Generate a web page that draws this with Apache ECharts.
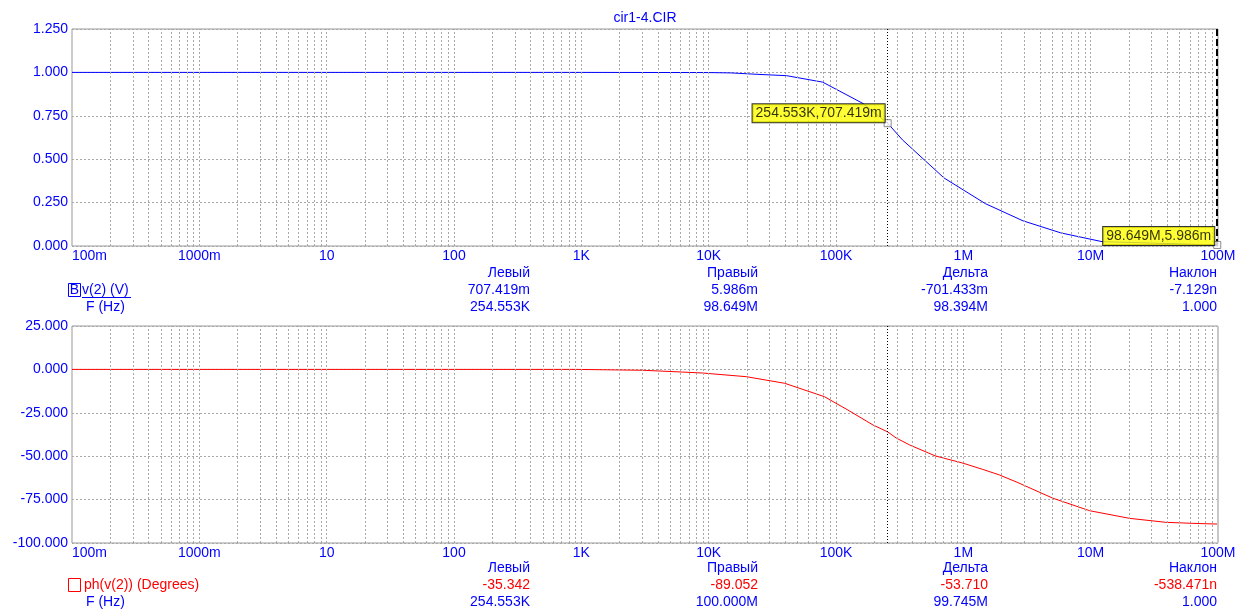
<!DOCTYPE html>
<html><head><meta charset="utf-8">
<script src="https://cdn.jsdelivr.net/npm/echarts@6/dist/echarts.min.js"></script>
<style>html,body{margin:0;padding:0;background:#fff}#c{width:1237px;height:610px}</style>
</head><body><div id="c"></div>
<script>
// ---------------- data ----------------
const xTickLabels = ['100m','1000m','10','100','1K','10K','100K','1M','10M','100M'];
const magFreq   = [0.1, 1000, 10000, 15000, 24000, 41000, 78500, 162000, 254553, 333000, 705000, 1490000, 2940000, 5830000, 12300000, 98649000];
const magValues = [1.0, 1.0, 0.999, 0.997, 0.989, 0.981, 0.944, 0.822, 0.7074, 0.611, 0.392, 0.244, 0.145, 0.0755, 0.025, 0.005986];
const phaseFreq   = [0.1, 915, 3050, 6100, 9000, 19800, 39500, 81000, 124000, 195000, 254553, 297000, 378000, 600000, 993000, 1420000, 1920000, 2680000, 5050000, 9800000, 20200000, 39000000, 71000000, 100000000];
const phaseValues = [0, 0, -0.5, -1.5, -2.1, -4.2, -8.0, -15.7, -23.4, -32.0, -36.0, -39.5, -43.5, -49.8, -54.0, -57.6, -60.8, -65.2, -74.2, -81.4, -85.8, -88.1, -88.8, -89.1];
const cursorLeftFreq = 254553;
const cursorRightFreqMag = 98649000;
const cursorRightFreqPhase = 100000000;
const cursorMagValues = [0.707419, 0.005986];
const cursorLabels = ['254.553K,707.419m', '98.649M,5.986m'];
const tableHeaders = ['Левый', 'Правый', 'Дельта', 'Наклон'];
const magRow       = ['707.419m', '5.986m', '-701.433m', '-7.129n'];
const magFreqRow   = ['254.553K', '98.649M', '98.394M', '1.000'];
const phaseRow     = ['-35.342', '-89.052', '-53.710', '-538.471n'];
const phaseFreqRow = ['254.553K', '100.000M', '99.745M', '1.000'];
const magTrace = 'v(2) (V)';
const phaseTrace = 'ph(v(2)) (Degrees)';
const freqName = 'F (Hz)';
const titleText = 'cir1-4.CIR';

// ---------------- styling ----------------
const FONT = '"Liberation Sans", Arial, sans-serif';
const BLUE = '#0000ff';
const RED = '#ff0000';
const GRIDC = '#a8a8a8';

const gridX = [];
for (let k = -1; k <= 7; k++) {
  for (let m = 1; m <= 9; m++) {
    const v = m * Math.pow(10, k);
    if (k === -1 && m === 1) continue;
    gridX.push(+v.toPrecision(6));
  }
}

function xAxisCfg(idx) {
  return {
    type: 'log', logBase: 10, min: 0.1, max: 1e8, gridIndex: idx,
    axisLine: { show: false }, axisTick: { show: false }, splitLine: { show: false },
    axisLabel: {
      color: BLUE, fontFamily: FONT, fontSize: 14, margin: 3,
      showMinLabel: true, showMaxLabel: true, alignMinLabel: 'left', hideOverlap: false,
      formatter: v => xTickLabels[Math.round(Math.log10(v)) + 1]
    }
  };
}
function yAxisCfg(idx, min, max, interval) {
  return {
    type: 'value', gridIndex: idx, min: min, max: max, interval: interval,
    axisLine: { show: false }, axisTick: { show: false },
    splitLine: { show: true, lineStyle: { color: GRIDC, type: [2, 2], width: 1 } },
    axisLabel: { color: BLUE, fontFamily: FONT, fontSize: 14, margin: 4, formatter: v => v.toFixed(3) }
  };
}
function gridLineSeries(idx) {
  return {
    type: 'line', xAxisIndex: idx, yAxisIndex: idx, data: [], silent: true, z: 1,
    markLine: {
      silent: true, symbol: ['none', 'none'], animation: false, label: { show: false },
      lineStyle: { color: GRIDC, type: [2, 2], width: 1 },
      data: gridX.map(v => ({ xAxis: v }))
    }
  };
}
function cursorSeries(idx, rightFreq, rightStyle) {
  return {
    type: 'line', xAxisIndex: idx, yAxisIndex: idx, data: [], silent: true, z: 4,
    markLine: {
      silent: true, symbol: ['none', 'none'], animation: false, label: { show: false },
      data: [
        { xAxis: cursorLeftFreq, lineStyle: { color: '#000', type: [1, 2], width: 1 } },
        { xAxis: rightFreq, lineStyle: rightStyle }
      ]
    }
  };
}

const magData = magFreq.map((f, i) => [f, magValues[i]]);
const phaseData = phaseFreq.map((f, i) => [f, phaseValues[i]]);

const colX = [530, 758, 988, 1217];
const graphics = [];
function txt(x, y, text, color, align) {
  graphics.push({ type: 'text', silent: true, style: { x: x, y: y, text: text, fill: color, font: '14px ' + FONT, align: align, verticalAlign: 'middle', textAlign: align, textVerticalAlign: 'middle' } });
}
txt(645, 18, titleText, BLUE, 'center');
tableHeaders.forEach((h, i) => { txt(colX[i], 273, h, BLUE, 'right'); txt(colX[i], 568, h, BLUE, 'right'); });
magRow.forEach((t, i) => txt(colX[i], 290, t, BLUE, 'right'));
magFreqRow.forEach((t, i) => txt(colX[i], 307, t, BLUE, 'right'));
phaseRow.forEach((t, i) => txt(colX[i], 585, t, RED, 'right'));
phaseFreqRow.forEach((t, i) => txt(colX[i], 602, t, BLUE, 'right'));
// legend boxes
graphics.push({ type: 'rect', silent: true, shape: { x: 68.5, y: 283.5, width: 12, height: 13 }, style: { fill: 'none', stroke: BLUE, lineWidth: 1 } });
txt(74.5, 290, 'B', BLUE, 'center');
txt(82, 290, magTrace, BLUE, 'left');
graphics.push({ type: 'line', silent: true, shape: { x1: 82, y1: 297.5, x2: 131, y2: 297.5 }, style: { stroke: BLUE, lineWidth: 1 } });
txt(86, 307, freqName, BLUE, 'left');
graphics.push({ type: 'rect', silent: true, shape: { x: 68.5, y: 578.5, width: 12, height: 13 }, style: { fill: 'none', stroke: RED, lineWidth: 1 } });
txt(84, 585, phaseTrace, RED, 'left');
txt(86, 602, freqName, BLUE, 'left');

const labelStyle = {
  show: true, position: 'left', distance: 0, color: '#000', fontFamily: FONT, fontSize: 14,
  backgroundColor: '#ffff00', borderColor: '#000', borderWidth: 1, padding: [2, 3, 2, 3]
};

const option = {
  animation: false,
  backgroundColor: '#fff',
  grid: [
    { left: 72, top: 29, width: 1146, height: 217, show: true, borderColor: '#999', borderWidth: 1, backgroundColor: '#fff', containLabel: false, outerBoundsMode: 'none' },
    { left: 72, top: 326, width: 1146, height: 217, show: true, borderColor: '#999', borderWidth: 1, backgroundColor: '#fff', containLabel: false, outerBoundsMode: 'none' }
  ],
  xAxis: [xAxisCfg(0), xAxisCfg(1)],
  yAxis: [yAxisCfg(0, 0, 1.25, 0.25), yAxisCfg(1, -100, 25, 25)],
  graphic: graphics,
  series: [
    gridLineSeries(0),
    gridLineSeries(1),
    { type: 'line', xAxisIndex: 0, yAxisIndex: 0, data: magData, showSymbol: false, symbol: 'none', z: 3,
      lineStyle: { color: BLUE, width: 1 }, silent: true },
    { type: 'line', xAxisIndex: 1, yAxisIndex: 1, data: phaseData, showSymbol: false, symbol: 'none', z: 3,
      lineStyle: { color: RED, width: 1 }, silent: true },
    cursorSeries(0, cursorRightFreqMag, { color: '#000', type: [7, 3], width: 2 }),
    cursorSeries(1, cursorRightFreqPhase, { color: '#c8c8c8', type: 'solid', width: 2 }),
    { type: 'scatter', xAxisIndex: 0, yAxisIndex: 0, z: 6, silent: true, clip: false,
      symbol: 'rect', symbolSize: 7, itemStyle: { color: '#fff', borderColor: '#707070', borderWidth: 1 },
      data: [
        { value: [cursorLeftFreq, cursorMagValues[0]], label: Object.assign({}, labelStyle, { formatter: cursorLabels[0], offset: [1, -10] }) },
        { value: [cursorRightFreqMag, cursorMagValues[1]], label: Object.assign({}, labelStyle, { formatter: cursorLabels[1], offset: [1, -9] }) }
      ]
    }
  ]
};
const chart = echarts.init(document.getElementById('c'), null, { renderer: 'canvas' });
chart.setOption(option);
</script>
</body></html>
